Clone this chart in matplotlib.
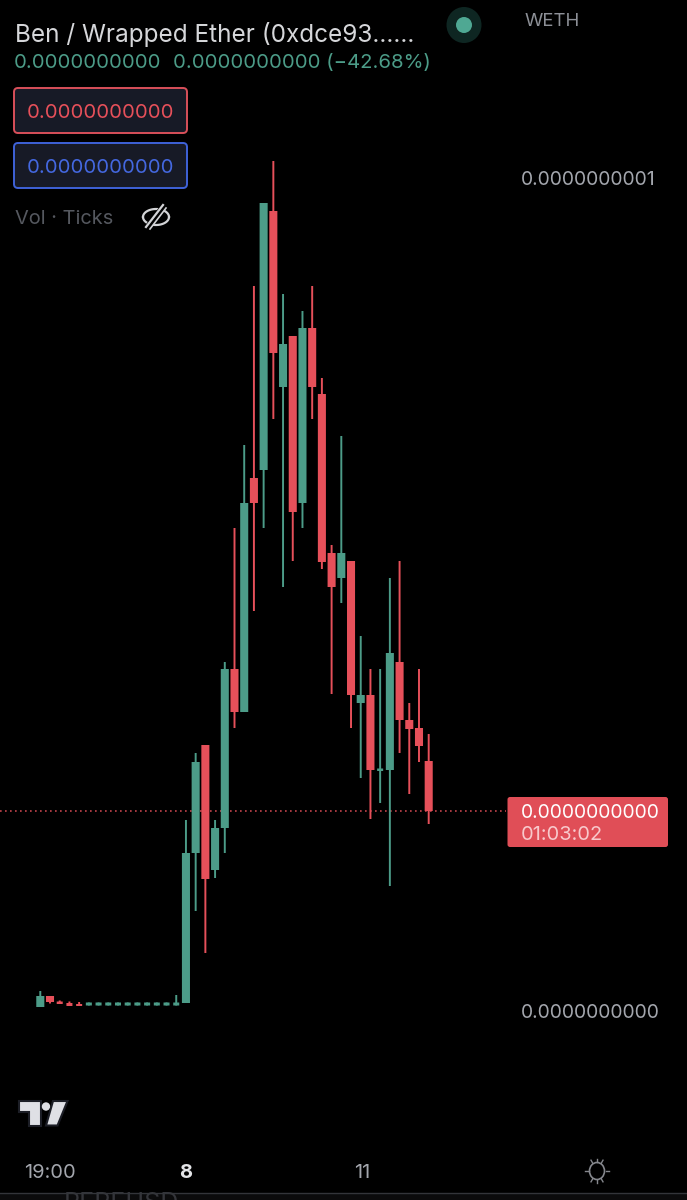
import matplotlib
matplotlib.use('Agg')
import matplotlib.pyplot as plt
import numpy as np
from matplotlib.patches import Circle, FancyBboxPatch, Polygon, Ellipse, Rectangle

# candle values, on the chart's own price scale (tick 0.0000000000 = 0, tick 0.0000000001 = 833)
opens = [4, 15, 9.5, 8, 7, 5.5, 5.5, 5.5, 5.5, 5.5, 5.5, 5.5, 5.5, 5.5, 5.5, 8, 158, 266, 141, 183, 342, 299, 533, 541, 800, 624, 675, 508,
         683, 617, 458, 433, 450, 308, 316, 240, 241, 349, 291, 283, 250]
closes = [15, 9, 7, 5, 5, 8.5, 8.5, 8.5, 8.5, 8.5, 8.5, 8.5, 8.5, 8.5, 8.5, 158, 249, 132, 183, 342, 299, 508, 508, 808, 658, 667, 499, 683,
          624, 449, 424, 458, 316, 316, 241, 242.5, 358, 291, 282, 265, 200]
highs = [20, 15, 10.5, 9.5, 9, 8.5, 8.5, 8.5, 8.5, 8.5, 8.5, 8.5, 8.5, 8.5, 16, 191, 258, 266, 191, 349, 483, 566, 725, 808, 850, 717, 675, 700,
         725, 633, 466, 575, 450, 375, 342, 342, 433, 450, 308, 342, 277]
lows = [4, 7.5, 7, 5, 5, 5.5, 5.5, 5.5, 5.5, 5.5, 5.5, 5.5, 5.5, 5.5, 5.5, 8, 100, 58, 133, 158, 283, 299, 400, 483, 592, 424, 450, 483,
        592, 442, 317, 408, 283, 233, 192, 208, 125, 258, 217, 249, 187]

price_ticks = [0, 833]
price_labels = ['0.0000000000', '0.0000000001']
last_price = 200
time_ticks = [0.95, 15, 33.1]
time_labels = ['19:00', '8', '11']

BG = '#000000'
GREEN = '#4c9c88'
RED = '#e6505a'
FONT = 'Inter'

fig = plt.figure(figsize=(6.87, 12), dpi=100, facecolor=BG)

# chart axes fill the whole picture
ax = fig.add_axes([0, 0, 1, 1], facecolor=BG)
ax.set_xlim(-40.3 / 9.71, (687 - 40.3) / 9.71)
ax.set_ylim(1011 - 1200, 1011)
ax.axis('off')

x = np.arange(len(opens))
colors = [GREEN if c >= o else RED for o, c in zip(opens, closes)]
wicks = ax.vlines(x, lows, highs, colors=colors, linewidth=1.4, zorder=2)
wicks.set_snap(False)
bottoms = np.minimum(opens, closes)
heights = np.abs(np.array(closes) - np.array(opens))
widths = np.where(heights < 3.5, 0.62, 0.83)  # the tiny candles render narrower
bars = ax.bar(x, heights, bottom=bottoms, width=widths, color=colors, linewidth=0, zorder=3)
for b in bars:
    b.set_snap(False)

# last price line
ax.plot([ax.get_xlim()[0], 48], [last_price, last_price], color=RED, linewidth=1.2, dashes=(1, 2), alpha=0.85, zorder=1)

# overlay axes in screen pixels for the app's interface
ui = fig.add_axes([0, 0, 1, 1], facecolor='none')
ui.set_xlim(0, 687)
ui.set_ylim(1200, 0)
ui.axis('off')


def label(px, py, s, size, color, ha='left', **kw):
    ui.text(px, py, s, fontsize=size * 0.72, color=color, ha=ha, va='center_baseline', family=FONT, **kw)


for v, s in zip(price_ticks, price_labels):
    label(521, 1011 - v, s, 19.4, '#a3a6ad')
label(525, 20, 'WETH', 18.6, '#8d9097')
for t, s in zip(time_ticks, time_labels):
    label(40.3 + 9.71 * t, 1171, s, 20, '#e4e5e8' if s == '8' else '#a3a6ad', ha='center',
          fontweight='bold' if s == '8' else 'normal')

# header
label(15, 32, 'Ben / Wrapped Ether (0xdce93......', 24.3, '#d6d7da')
label(14, 61, '0.0000000000', 20.3, GREEN)
label(173, 61, '0.0000000000 (−42.68%)', 20.3, GREEN)
ui.add_patch(FancyBboxPatch((14, 88), 173, 45, boxstyle='round,pad=0,rounding_size=4', fc='#171a26', ec='#d9505a', lw=1.4))
ui.add_patch(FancyBboxPatch((14, 143), 173, 45, boxstyle='round,pad=0,rounding_size=4', fc='#171a26', ec='#3f62d8', lw=1.4))
label(100, 111, '0.0000000000', 20.3, '#e6505a', ha='center')
label(100, 166, '0.0000000000', 20.3, '#4468e0', ha='center')
label(15, 217, 'Vol · Ticks', 20, '#55585f')

# status dot
ui.add_patch(Ellipse((464, 25), 35, 36, fc='#0e2622', ec='none'))
ui.add_patch(Circle((464, 25), 8, fc='#4fa893', ec='none'))

# eye icon
t = np.linspace(0, np.pi, 40)
ui.plot(156 + 13 * np.cos(t), 217 - 8 * np.sin(t), color='#d2d3d6', lw=1.6)
ui.plot(156 + 13 * np.cos(t), 217 + 8 * np.sin(t), color='#d2d3d6', lw=1.6)
ui.plot([147, 164], [228, 206], color='#000000', lw=4.5)
ui.plot([146, 163], [227, 205], color='#d2d3d6', lw=1.6)
ui.plot([150, 166], [229, 208], color='#d2d3d6', lw=1.2)

# price label
ui.add_patch(FancyBboxPatch((507.5, 797), 160.5, 50, boxstyle='round,pad=0,rounding_size=2.5', fc='#e04e57', ec='none'))
label(521, 811, '0.0000000000', 19.4, '#ffffff')
label(521, 833, '01:03:02', 20, '#f8c9cc')

# tradingview logo
ui.add_patch(Polygon([(18.5, 1101), (41, 1101), (41, 1125.5), (29, 1125.5), (29, 1112), (18.5, 1112)],
                     fc='#dfe0e5', ec='#1c1e26', lw=1.5))
ui.add_patch(Circle((46, 1106.5), 4.2, fc='#dfe0e5', ec='none'))
ui.add_patch(Polygon([(53, 1101), (67.5, 1101), (57.5, 1125.5), (46, 1125.5)], fc='#dfe0e5', ec='#1c1e26', lw=1.5))

# sun icon
ui.add_patch(Ellipse((597, 1171), 15, 17, fc='none', ec='#85878d', lw=1.2))
for a in np.deg2rad(np.arange(30, 360, 60)):
    ui.plot([597 + 8.5 * np.sin(a), 597 + 12 * np.sin(a)], [1171 - 9 * np.cos(a), 1171 - 12.5 * np.cos(a)], color='#85878d', lw=1.0)
ui.plot([597, 597], [1159, 1162], color='#85878d', lw=1.0)
ui.plot([597, 597], [1180, 1183], color='#85878d', lw=1.0)

# cut off text and rule along the bottom edge
ui.add_patch(Rectangle((0, 1193), 687, 7, fc='#0b0b0c', ec='none', zorder=1))
ui.text(64, 1203, 'REPEUSD', fontsize=18, color='#34353a', family=FONT, va='center', zorder=2, clip_on=True)
ui.plot([0, 687], [1192.5, 1192.5], color='#33353a', lw=1.0, zorder=3)

plt.savefig('out.png', dpi=100, facecolor=BG)
plt.close()
